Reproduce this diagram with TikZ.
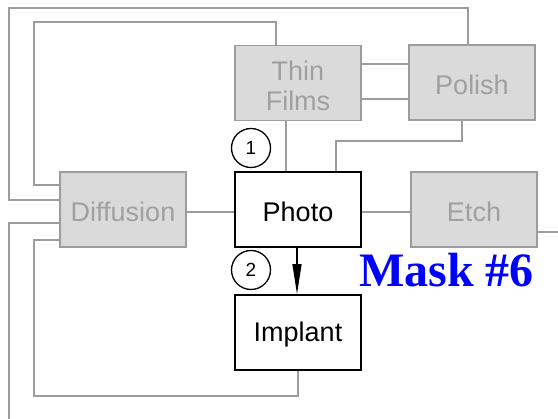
\documentclass[tikz,border=0pt]{standalone}
\usepackage{fontspec}
\setmainfont{Liberation Sans}
\newfontfamily\maskfont{Liberation Serif}
\usetikzlibrary{arrows.meta}
\definecolor{boxfill}{HTML}{DADADA}
\definecolor{boxline}{HTML}{9C9C9C}
\definecolor{boxtext}{HTML}{A0A0A0}
\newcommand\lowtext[2][-2.5pt]{\raisebox{#1}[\height][\depth]{#2}}
\begin{document}
\begin{tikzpicture}[x=1pt,y=-1pt,
  graybox/.style={draw=boxline,fill=boxfill,line width=1.6pt,minimum width=126pt,minimum height=75pt,inner sep=0pt,
    text=boxtext,font=\fontsize{27}{29}\selectfont},
  blackbox/.style={draw=black,fill=white,line width=1.8pt,minimum width=126pt,minimum height=75pt,inner sep=0pt,
    font=\fontsize{27}{29}\selectfont},
  conn/.style={draw=boxline,line width=1.5pt},
  numcirc/.style={draw=black,circle,line width=1.3pt,minimum size=39pt,inner sep=0pt,font=\fontsize{19}{19}\selectfont}]
\useasboundingbox (0,0) rectangle (558,419);
% nodes
\node[graybox] (thin) at (298,83) {\lowtext[-7pt]{\begin{tabular}{@{}c@{}}Thin\\[1pt]Films\end{tabular}}};
\node[graybox] (polish) at (472,82.5) {\lowtext{Polish}};
\node[graybox] (diff) at (123,209.5) {\lowtext{Diffusion}};
\node[blackbox] (photo) at (298,209.5) {\lowtext{Photo}};
\node[graybox] (etch) at (474,209.5) {\lowtext{Etch}};
\node[blackbox] (implant) at (298,332.5) {\lowtext{Implant}};
\node[numcirc] (c1) at (251,148) {1};
\node[numcirc] (c2) at (251,270) {2};
\node[anchor=base west,inner sep=0pt,text=blue,font=\maskfont\bfseries\fontsize{48}{48}\selectfont] (mask) at (359,287) {Mask \#6};
% free ends
\coordinate (etchend) at (558,232);
\coordinate (leftend) at (9,419);
% connectors
\draw[conn] (polish.north -| 468,0) -- (468,8) -- (9,8) -- (9,200) -- (diff.west |- 0,200);
\draw[conn] (thin.north -| 276,0) -- (276,22) -- (34,22) -- (34,185) -- (diff.west |- 0,185);
\draw[conn] (thin.east |- 0,64) -- (polish.west |- 0,64);
\draw[conn] (thin.east |- 0,99) -- (polish.west |- 0,99);
\draw[conn] (thin.south -| 286,0) -- (photo.north -| 286,0);
\draw[conn] (polish.south -| 462,0) -- (462,141) -- (336,141) -- (photo.north -| 336,0);
\draw[conn] (diff.east |- 0,212) -- (photo.west |- 0,212);
\draw[conn] (photo.east |- 0,212) -- (etch.west |- 0,212);
\draw[conn] (etch.east |- etchend) -- (etchend);
\draw[conn] (diff.west |- 0,223) -- (9,223) -- (leftend);
\draw[conn] (diff.west |- 0,240) -- (34,240) -- (34,396) -- (298,396) -- (implant.south -| 298,0);
\draw[line width=1.3pt,-{Triangle[length=30pt,width=9pt]}] (photo.south -| 297,0) -- (implant.north -| 297,0);
\end{tikzpicture}
\end{document}
